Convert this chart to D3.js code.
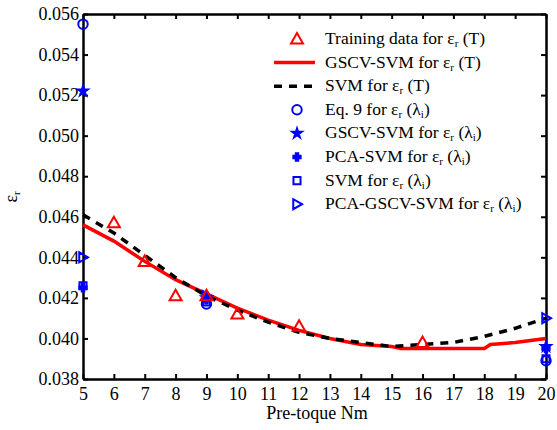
<!DOCTYPE html>
<html>
<head>
<meta charset="utf-8">
<script src="https://d3js.org/d3.v7.min.js"></script>
<style>
  body { margin:0; background:#fff; overflow:hidden; }
  svg { display:block; }
  svg text { font-family: "Liberation Serif", "Times New Roman", serif; }
</style>
</head>
<body>
<script>
// pre-torque (N m) on x, epsilon_r on y
const trainX = [6, 7, 8, 9, 10, 12, 16];
const trainY = [0.0457, 0.0438, 0.0421, 0.0421, 0.0412, 0.0406, 0.0398];

const gscvX = [5, 6, 7, 8, 9, 10, 11, 12, 13, 14, 15, 15.3, 18, 18.2, 19, 19.5, 20];
const gscvY = [0.0456, 0.0448, 0.0438, 0.0429, 0.0422, 0.0415, 0.0409, 0.0404, 0.0400, 0.0397, 0.0396, 0.0395, 0.0395, 0.0397, 0.0398, 0.0399, 0.0400];

const svmX = [5, 6, 7, 8, 9, 10, 11, 12, 13, 14, 15, 16, 17, 18, 19, 20];
const svmY = [0.0461, 0.0452, 0.0441, 0.0430, 0.0421, 0.0414, 0.0408, 0.0403, 0.0400, 0.0398, 0.0396, 0.0397, 0.0398, 0.0401, 0.0405, 0.0410];

const lambdaX = [5, 9, 20];
const eq9Y     = [0.0555, 0.0417, 0.0389];
const gscvLamY = [0.0522, 0.0420, 0.0396];
const pcaLamY  = [0.0425, 0.0419, 0.0395];
const svmLamY  = [0.0426, 0.0418, 0.0390];
const pgLamY   = [0.0440, 0.0421, 0.0410];

const xTicks = d3.range(5, 21);
const yTicks = d3.range(0.038, 0.0561, 0.002);

const width = 557, height = 430;
const margin = { top: 14, right: 11, bottom: 51, left: 83 };
const innerWidth = width - margin.left - margin.right;
const innerHeight = height - margin.top - margin.bottom;

const serif = '"Liberation Serif", "Times New Roman", serif';

const svg = d3.select("body").append("svg")
  .attr("width", width)
  .attr("height", height)
  .attr("font-family", serif);

const g = svg.append("g")
  .attr("transform", `translate(${margin.left},${margin.top})`);

const x = d3.scaleLinear().domain([5, 20]).range([0, innerWidth]);
const y = d3.scaleLinear().domain([0.038, 0.056]).range([innerHeight, 0]);

const blue = "#0000ff", red = "#ff0000";

// axes, ticks pointing inward on every side
const tickLen = 5;
const axes = [
  g.append("g").attr("transform", `translate(0,${innerHeight})`)
    .call(d3.axisBottom(x).tickValues(xTicks).tickSizeInner(-tickLen).tickSizeOuter(0).tickPadding(8).tickFormat(d3.format("d"))),
  g.append("g")
    .call(d3.axisTop(x).tickValues(xTicks).tickSizeInner(-tickLen).tickSizeOuter(0).tickFormat("")),
  g.append("g")
    .call(d3.axisLeft(y).tickValues(yTicks).tickSizeInner(-tickLen).tickSizeOuter(0).tickPadding(4).tickFormat(d3.format(".3f"))),
  g.append("g").attr("transform", `translate(${innerWidth},0)`)
    .call(d3.axisRight(y).tickValues(yTicks).tickSizeInner(-tickLen).tickSizeOuter(0).tickFormat(""))
];
axes.forEach(a => a.attr("font-family", serif).attr("font-size", 18));

g.selectAll(".domain").attr("stroke", "#000").attr("stroke-width", 2.5);
g.selectAll(".tick line").attr("stroke", "#000").attr("stroke-width", 2);
g.selectAll(".tick text").attr("fill", "#000");

// lines
const line = d3.line().x(d => x(d[0])).y(d => y(d[1]));

g.append("path")
  .datum(gscvX.map((v, i) => [v, gscvY[i]]))
  .attr("d", line)
  .attr("fill", "none")
  .attr("stroke", red)
  .attr("stroke-width", 3.5);

g.append("path")
  .datum(svmX.map((v, i) => [v, svmY[i]]))
  .attr("d", line)
  .attr("fill", "none")
  .attr("stroke", "#000")
  .attr("stroke-width", 3.5)
  .attr("stroke-dasharray", "8,7");

// markers
function triUp(s) { return `M0,${-s}L${s},${s * 0.75}L${-s},${s * 0.75}Z`; }
function triRight(s) { return `M${s},0L${-s * 0.75},${-s}L${-s * 0.75},${s}Z`; }
const shapes = {
  tri: [triUp(6), "none", red],
  circle: [d3.symbol(d3.symbolCircle, 70)(), "none", blue],
  star: [d3.symbol(d3.symbolStar, 28)(), blue, blue],
  cross: [d3.symbol(d3.symbolCross, 30)(), blue, blue],
  square: [d3.symbol(d3.symbolSquare, 50)(), "none", blue],
  triR: [triRight(5), "none", blue]
};

const markerSets = [
  { ys: eq9Y, type: "circle" },
  { ys: svmLamY, type: "square" },
  { ys: gscvLamY, type: "star" },
  { ys: pcaLamY, type: "cross" },
  { ys: pgLamY, type: "triR" }
];

function drawMarkers(xs, ys, type) {
  const s = shapes[type];
  g.append("g").selectAll("path")
    .data(xs.map((v, i) => [v, ys[i]]))
    .enter()
    .append("path")
    .attr("transform", d => `translate(${x(d[0])},${y(d[1])})`)
    .attr("d", s[0])
    .attr("fill", s[1])
    .attr("stroke", s[2])
    .attr("stroke-width", 2);
}
markerSets.forEach(m => drawMarkers(lambdaX, m.ys, m.type));
drawMarkers(trainX, trainY, "tri");

// axis labels
svg.append("text")
  .attr("x", 317).attr("y", 419)
  .attr("text-anchor", "middle")
  .attr("font-size", 18)
  .text("Pre-toque Nm");

const yl = svg.append("text")
  .attr("transform", "translate(17,197) rotate(-90)")
  .attr("text-anchor", "middle")
  .attr("font-size", 18);
yl.append("tspan").text("ε");
yl.append("tspan").attr("font-size", 11).attr("dy", 3).text("r");

// legend
const legendItems = [
  { type: "tri", main: "Training data for ε", sub: "r", tail: " (T)" },
  { type: "red", main: "GSCV-SVM for ε", sub: "r", tail: " (T)" },
  { type: "dash", main: "SVM for ε", sub: "r", tail: " (T)" },
  { type: "circle", main: "Eq. 9 for ε", sub: "r", tail: " (λ", sub2: "i", end: ")" },
  { type: "star", main: "GSCV-SVM for ε", sub: "r", tail: " (λ", sub2: "i", end: ")" },
  { type: "cross", main: "PCA-SVM for ε", sub: "r", tail: " (λ", sub2: "i", end: ")" },
  { type: "square", main: "SVM for ε", sub: "r", tail: " (λ", sub2: "i", end: ")" },
  { type: "triR", main: "PCA-GSCV-SVM for ε", sub: "r", tail: " (λ", sub2: "i", end: ")" }
];

const legend = svg.append("g");
legendItems.forEach((it, i) => {
  const cy = 39 + i * 23.6;
  const row = legend.append("g").attr("transform", `translate(297,${cy})`);
  if (it.type === "red") {
    row.append("line").attr("x1", -23).attr("x2", 18).attr("stroke", red).attr("stroke-width", 3.5);
  } else if (it.type === "dash") {
    row.append("line").attr("x1", -23).attr("x2", 18).attr("stroke", "#000").attr("stroke-width", 3.5).attr("stroke-dasharray", "8,7");
  } else {
    const p = shapes[it.type];
    row.append("path").attr("d", p[0]).attr("fill", p[1]).attr("stroke", p[2]).attr("stroke-width", 2);
  }
  const t = row.append("text").attr("x", 28).attr("y", 5).attr("font-size", 17.5);
  t.append("tspan").text(it.main);
  t.append("tspan").attr("font-size", 11).attr("dy", 3).text(it.sub);
  t.append("tspan").attr("dy", -3).text(it.tail);
  if (it.sub2) {
    t.append("tspan").attr("font-size", 11).attr("dy", 3).text(it.sub2);
    t.append("tspan").attr("dy", -3).text(it.end);
  }
});
</script>
</body>
</html>
